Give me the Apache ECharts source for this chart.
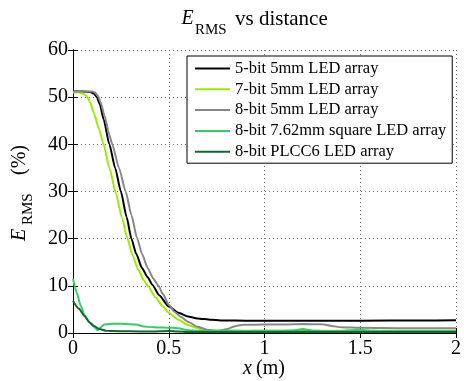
<!DOCTYPE html>
<html>
<head>
<meta charset="utf-8">
<script src="https://cdn.jsdelivr.net/npm/echarts@6/dist/echarts.min.js"></script>
<style>
html,body{margin:0;padding:0;background:#fff;}
#c{width:464px;height:381px;}
</style>
</head>
<body>
<div id="c"></div>
<script>
// ---- data ----
var seriesNames = ['5-bit 5mm LED array', '7-bit 5mm LED array', '8-bit 5mm LED array', '8-bit 7.62mm square LED array', '8-bit PLCC6 LED array'];
var xTicks = [0, 0.5, 1, 1.5, 2];
var yTicks = [0, 10, 20, 30, 40, 50, 60];

var bit5X = [0, 0.05, 0.09, 0.11, 0.125, 0.14, 0.16, 0.19, 0.22, 0.25, 0.28, 0.305, 0.33, 0.36, 0.39, 0.415, 0.45, 0.5, 0.55, 0.6, 0.65, 0.72, 0.8, 0.9, 1.0, 1.2, 1.5, 1.8, 2.0];
var bit5Y = [51.2, 51.2, 51.1, 50.7, 50, 48.5, 45.3, 40, 35, 30, 24.6, 20, 16.8, 13.8, 11.8, 10.2, 8.0, 5.6, 4.3, 3.5, 3.1, 2.8, 2.65, 2.6, 2.6, 2.6, 2.6, 2.65, 2.7];

var bit7X = [0, 0.03, 0.05, 0.065, 0.076, 0.09, 0.11, 0.135, 0.16, 0.19, 0.225, 0.255, 0.283, 0.31, 0.34, 0.37, 0.394, 0.43, 0.47, 0.5, 0.55, 0.6, 0.65, 0.7, 0.8, 1.0, 1.5, 2.0];
var bit7Y = [51, 51, 50.8, 50.4, 50, 48.8, 46.5, 43.3, 40, 35, 29.5, 24.5, 20.2, 16.6, 13.5, 11.2, 9.8, 7.6, 5.6, 4.3, 2.8, 1.7, 1.0, 0.65, 0.5, 0.5, 0.5, 0.5];

var bit8X = [0, 0.05, 0.1, 0.115, 0.13, 0.145, 0.165, 0.19, 0.205, 0.24, 0.275, 0.305, 0.334, 0.36, 0.39, 0.42, 0.446, 0.47, 0.5, 0.53, 0.56, 0.6, 0.65, 0.7, 0.755, 0.8, 0.85, 0.89, 1.0, 1.1, 1.2, 1.3, 1.35, 1.4, 1.5, 1.7, 2.0];
var bit8Y = [51.2, 51.2, 51.2, 51.0, 50.3, 48.8, 46, 42, 40, 35, 30, 25, 20.2, 16.8, 13.8, 11.5, 10, 8.2, 6.0, 4.5, 3.5, 2.4, 1.3, 0.7, 0.35, 0.8, 1.5, 1.75, 1.8, 1.8, 1.9, 1.85, 1.5, 1.2, 1.1, 1.0, 1.0];

var sqX = [0, 0.02, 0.04, 0.06, 0.085, 0.11, 0.128, 0.145, 0.162, 0.2, 0.25, 0.3, 0.33, 0.37, 0.42, 0.47, 0.52, 0.55, 0.6, 0.65, 0.7, 0.8, 0.9, 1.0, 1.1, 1.15, 1.2, 1.25, 1.3, 1.4, 1.5, 1.55, 1.6, 1.8, 2.0];
var sqY = [11.5, 8.5, 5.8, 3.8, 2.3, 1.3, 0.6, 1.2, 1.8, 1.95, 1.95, 1.85, 1.8, 1.4, 1.2, 1.15, 1.1, 1.0, 0.6, 0.5, 0.45, 0.5, 0.45, 0.5, 0.5, 0.55, 0.85, 0.5, 0.45, 0.45, 0.7, 0.5, 0.45, 0.45, 0.45];

var plccX = [0, 0.03, 0.06, 0.085, 0.11, 0.137, 0.17, 0.2, 0.3, 0.4, 0.5, 0.55, 0.6, 0.8, 1.0, 1.2, 1.4, 1.6, 1.8, 2.0];
var plccY = [6.8, 5.2, 3.6, 2.3, 1.5, 0.85, 0.5, 0.4, 0.35, 0.3, 0.45, 0.3, 0.2, 0.2, 0.2, 0.25, 0.2, 0.2, 0.2, 0.2];

var colors = ['#000000', '#99ee00', '#888888', '#33cc66', '#116633'];

function pairs(xs, ys) { return xs.map(function (x, i) { return [x, ys[i]]; }); }
var allData = [pairs(bit5X, bit5Y), pairs(bit7X, bit7Y), pairs(bit8X, bit8Y), pairs(sqX, sqY), pairs(plccX, plccY)];

var FONT = 'Liberation Serif';
var chart = echarts.init(document.getElementById('c'), null, {renderer: 'canvas'});

var axisCommon = {
  type: 'value',
  axisLine: {show: true, lineStyle: {color: '#000', width: 1}},
  axisTick: {show: true, inside: true, length: 5, lineStyle: {color: '#000'}},
};

var option = {
  animation: false,
  backgroundColor: '#fff',
  grid: {left: 73, right: 2, top: 50, bottom: 48},
  xAxis: [
    Object.assign({}, axisCommon, {
      min: xTicks[0], max: xTicks[xTicks.length - 1], interval: 0.5, position: 'bottom',
      axisLabel: {color: '#000', fontFamily: FONT, fontSize: 20, margin: 6},
      splitLine: {show: true, lineStyle: {color: '#777', type: [1, 3], width: 1}}
    }),
    Object.assign({}, axisCommon, {
      min: xTicks[0], max: xTicks[xTicks.length - 1], interval: 0.5, position: 'top',
      axisLabel: {show: false}, splitLine: {show: false}
    })
  ],
  yAxis: [
    Object.assign({}, axisCommon, {
      min: yTicks[0], max: yTicks[yTicks.length - 1], interval: 10, position: 'left',
      axisLabel: {color: '#000', fontFamily: FONT, fontSize: 20, margin: 5},
      splitLine: {show: true, lineStyle: {color: '#777', type: [1, 3], width: 1}}
    }),
    Object.assign({}, axisCommon, {
      min: yTicks[0], max: yTicks[yTicks.length - 1], interval: 10, position: 'right',
      axisLabel: {show: false}, splitLine: {show: false}
    })
  ],
  legend: {
    orient: 'vertical',
    left: 187, top: 56,
    padding: [4, 6, 3, 8],
    itemGap: 3.8,
    itemWidth: 35, itemHeight: 2,
    icon: 'rect',
    backgroundColor: '#fff',
    borderColor: '#000', borderWidth: 1,
    textStyle: {fontFamily: FONT, fontSize: 16.5, lineHeight: 14, color: '#000'},
    data: seriesNames
  },
  graphic: [
    {type: 'text', x: 181.5, y: 19, style: {text: 'E', font: 'italic 20px "Liberation Serif"', fill: '#000', verticalAlign: 'middle'}},
    {type: 'text', x: 195, y: 30, style: {text: 'RMS', font: '15px "Liberation Serif"', fill: '#000', verticalAlign: 'middle'}},
    {type: 'text', x: 235, y: 19, style: {text: 'vs distance', font: '21px "Liberation Serif"', fill: '#000', verticalAlign: 'middle'}},
    {type: 'group', x: 20, y: 241, rotation: Math.PI / 2, children: [
      {type: 'text', x: 0, y: 0, style: {text: 'E', font: 'italic 20px "Liberation Serif"', fill: '#000', verticalAlign: 'middle'}},
      {type: 'text', x: 16, y: 8.4, style: {text: 'RMS', font: '15px "Liberation Serif"', fill: '#000', verticalAlign: 'middle'}},
      {type: 'text', x: 66, y: 0, style: {text: '(%)', font: '20px "Liberation Serif"', fill: '#000', verticalAlign: 'middle'}}
    ]},
    {type: 'text', x: 243, y: 369, style: {text: 'x', font: 'italic 20px "Liberation Serif"', fill: '#000', verticalAlign: 'middle'}},
    {type: 'text', x: 256, y: 369, style: {text: '(m)', font: '20px "Liberation Serif"', fill: '#000', verticalAlign: 'middle'}}
  ],
  series: allData.map(function (d, i) {
    return {
      name: seriesNames[i], type: 'line', data: d,
      xAxisIndex: 0, yAxisIndex: 0,
      symbol: 'none', showSymbol: false,
      smooth: 0.2, smoothMonotone: 'x',
      lineStyle: {color: colors[i], width: 2},
      itemStyle: {color: colors[i]},
      z: 2 + i
    };
  })
};
chart.setOption(option);
</script>
</body>
</html>
